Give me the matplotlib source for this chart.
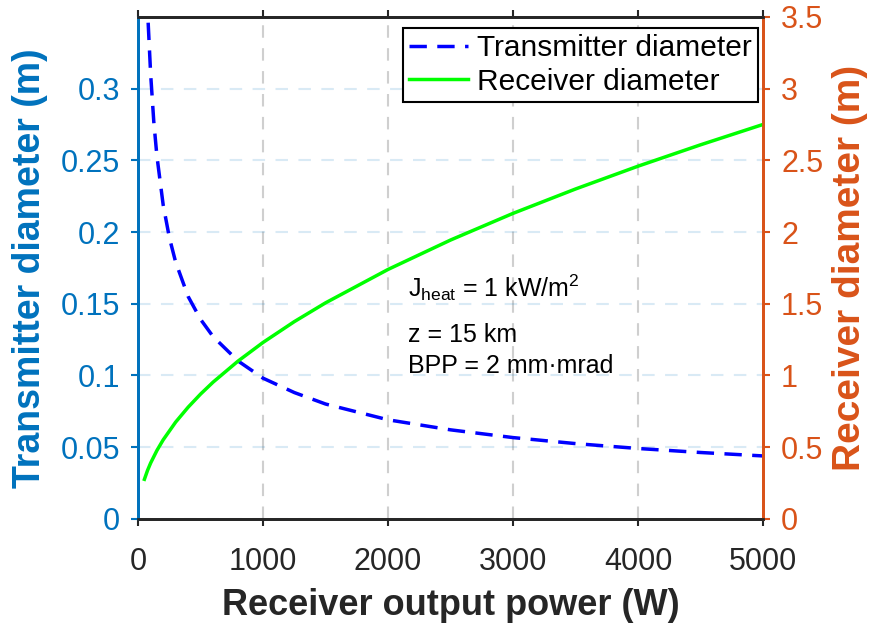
import numpy as np
import matplotlib.pyplot as plt

plt.rcParams['font.family'] = ['Liberation Sans', 'DejaVu Sans']
plt.rcParams['mathtext.fontset'] = 'custom'
plt.rcParams['mathtext.rm'] = 'Liberation Sans'
plt.rcParams['mathtext.it'] = 'Liberation Sans:italic'

# values
p_tx = [80, 100, 125, 150, 200, 250, 300, 400, 500, 600, 800, 1000, 1250, 1500,
        2000, 2500, 3000, 3500, 4000, 4500, 5000]
d_tx = [0.346, 0.310, 0.277, 0.253, 0.219, 0.196, 0.179, 0.155, 0.139, 0.127,
        0.110, 0.098, 0.088, 0.080, 0.069, 0.062, 0.0566, 0.0524, 0.049, 0.0462, 0.0438]

p_rx = [50, 75, 100, 150, 200, 300, 400, 500, 600, 800, 1000, 1250, 1500, 2000,
        2500, 3000, 3500, 4000, 4500, 5000]
d_rx = [0.275, 0.337, 0.389, 0.476, 0.550, 0.674, 0.778, 0.870, 0.953, 1.100,
        1.230, 1.375, 1.506, 1.739, 1.944, 2.130, 2.300, 2.459, 2.608, 2.750]

notes = ['J$_{\\rm heat}$ = 1 kW/m$^2$', 'z = 15 km', 'BPP = 2 mm\u00b7mrad']
note_y = [0.1549, 0.1235, 0.1018]

c_left = '#0072BD'
c_right = '#D95319'
c_dark = '#262626'

fig = plt.figure(figsize=(8.8, 6.28), dpi=100)
ax = fig.add_axes([0.157, 0.174, 0.710, 0.799])
ax2 = ax.twinx()

l1, = ax.plot(p_tx, d_tx, color=(0, 0, 1), linewidth=2.5, dashes=(5, 3),
              label='Transmitter diameter')
l2, = ax2.plot(p_rx, d_rx, color=(0, 1, 0), linewidth=2.5, label='Receiver diameter')

ax.set_xlim(0, 5000)
ax.set_ylim(0, 0.35)
ax2.set_ylim(0, 3.5)
ax.set_xticks(np.arange(0, 5001, 1000))
ax.set_yticks([0, 0.05, 0.1, 0.15, 0.2, 0.25, 0.3])
ax.set_yticklabels(['0', '0.05', '0.1', '0.15', '0.2', '0.25', '0.3'])
ax2.set_yticks([0, 0.5, 1, 1.5, 2, 2.5, 3, 3.5])
ax2.set_yticklabels(['0', '0.5', '1', '1.5', '2', '2.5', '3', '3.5'])

# grid: vertical gray, horizontal tinted with left axis colour
for x in range(1000, 5000, 1000):
    ax.axvline(x, color='#b0b0b0', linewidth=1.5, dashes=(6, 5), alpha=0.6, zorder=0)
ax.yaxis.grid(True, color=c_left, alpha=0.15, linewidth=1.5, dashes=(6, 5))
ax.set_axisbelow(True)

ax.tick_params(axis='x', direction='out', length=5, width=1.5, labelsize=22,
               colors=c_dark, top=True, pad=15)
ax.tick_params(axis='y', direction='out', length=5, width=1.5, labelsize=22,
               colors=c_left, pad=8)
ax2.tick_params(axis='y', direction='out', length=5, width=1.5, labelsize=22,
                colors=c_right, pad=8)

for a in (ax, ax2):
    for s in a.spines.values():
        s.set_linewidth(2)
    a.spines['top'].set_color(c_dark)
    a.spines['bottom'].set_color(c_dark)
    a.spines['left'].set_color(c_left)
    a.spines['right'].set_color(c_right)

ax.set_xlabel('Receiver output power (W)', fontsize=26, fontweight='bold',
              color=c_dark, labelpad=8)
ax.set_ylabel('Transmitter diameter (m)', fontsize=27, fontweight='bold',
              color=c_left, labelpad=9)
ax2.set_ylabel('Receiver diameter (m)', fontsize=28, fontweight='bold',
               color=c_right, labelpad=6)

leg = ax2.legend([l1, l2], ['Transmitter diameter', 'Receiver diameter'],
                 loc='upper right', bbox_to_anchor=(0.992, 0.978), fontsize=21.5,
                 frameon=True, fancybox=False, edgecolor='black', framealpha=1,
                 borderpad=0.2, labelspacing=0.2, handlelength=2.0,
                 handletextpad=0.3, borderaxespad=0)
leg.get_frame().set_linewidth(1.5)

for txt, y in zip(notes, note_y):
    ax.text(2160, y, txt, fontsize=18, va='baseline', ha='left')

fig.savefig('out.png', dpi=100)
